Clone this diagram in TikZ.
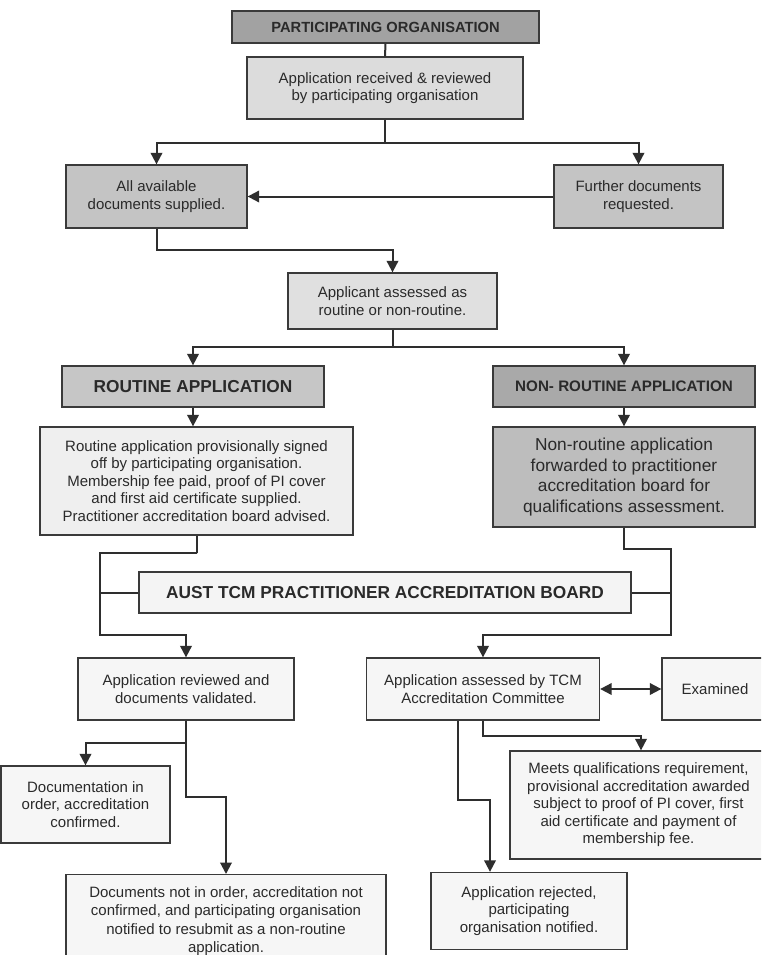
\documentclass[tikz,border=0pt]{standalone}
\usepackage{fontspec}
\setmainfont{Liberation Sans}
\usetikzlibrary{arrows.meta}
\definecolor{bordc}{HTML}{3A3A3A}
\definecolor{linec}{HTML}{2E2E2E}
\definecolor{txtc}{HTML}{2A2A2A}
\definecolor{fpo}{HTML}{A2A2A2}
\definecolor{frecv}{HTML}{DCDCDC}
\definecolor{favail}{HTML}{C4C4C4}
\definecolor{fassess}{HTML}{E0E0E0}
\definecolor{frout}{HTML}{C6C6C6}
\definecolor{fnonrout}{HTML}{A9A9A9}
\definecolor{froutbox}{HTML}{EFEFEF}
\definecolor{fnonroutbox}{HTML}{BDBDBD}
\definecolor{fboard}{HTML}{F4F4F4}
\definecolor{flow}{HTML}{F6F6F6}
\begin{document}
\begin{tikzpicture}[x=1pt,y=-1pt,
  box/.style={draw=bordc, line width=1.3pt, rectangle, align=center, text=txtc,
    inner sep=0pt, font=\fontsize{15}{17.5}\selectfont},
  bighead/.style={font=\fontsize{17.3}{20}\selectfont\bfseries},
  conn/.style={draw=linec, line width=2pt},
  arr/.style={conn, -{Triangle[length=11.5pt,width=11.5pt]}},
  dblarr/.style={conn, {Triangle[length=11.5pt,width=11.5pt]}-{Triangle[length=11.5pt,width=11.5pt]}}
]
\useasboundingbox (0,0) rectangle (761,955);
\clip (0,0) rectangle (761,955);
\fill[white] (0,0) rectangle (761,955);

% nodes
\node[box, fill=fpo, minimum width=307pt, minimum height=32pt,
  font=\fontsize{14.7}{17}\selectfont\bfseries] (po) at (385.5,27) {PARTICIPATING ORGANISATION};
\node[box, fill=frecv, minimum width=276pt, minimum height=62pt] (recv) at (385,88)
  {Application received \& reviewed\\by participating organisation};
\node[box, fill=favail, minimum width=181pt, minimum height=63pt] (avail) at (156.5,196.5)
  {All available\\documents supplied.};
\node[box, fill=favail, minimum width=169pt, minimum height=63pt] (further) at (638.5,196.5)
  {Further documents\\requested.};
\node[box, fill=fassess, minimum width=209pt, minimum height=56pt] (assess) at (392.5,301)
  {Applicant assessed as\\routine or non-routine.};
\node[box, fill=frout, minimum width=262pt, minimum height=41pt, bighead] (rout) at (193,386.5)
  {ROUTINE APPLICATION};
\node[box, fill=fnonrout, minimum width=262pt, minimum height=41pt,
  font=\fontsize{15.2}{18}\selectfont\bfseries] (nonrout) at (624,386.5)
  {NON- ROUTINE APPLICATION};
\node[box, fill=froutbox, minimum width=313pt, minimum height=108pt] (routbox) at (196.5,481)
  {Routine application provisionally signed\\off by participating organisation.\\Membership fee paid, proof of PI cover\\and first aid certificate supplied.\\Practitioner accreditation board advised.};
\node[box, fill=fnonroutbox, minimum width=262pt, minimum height=100pt,
  font=\fontsize{17.3}{20.5}\selectfont] (nonroutbox) at (624,477)
  {Non-routine application\\forwarded to practitioner\\accreditation board for\\qualifications assessment.};
\node[box, fill=fboard, minimum width=492pt, minimum height=41pt, bighead] (board) at (385,592.5)
  {AUST TCM PRACTITIONER ACCREDITATION BOARD};
\node[box, fill=flow, minimum width=216pt, minimum height=62pt] (reviewed) at (186,689)
  {Application reviewed and\\documents validated.};
\node[box, fill=flow, minimum width=233pt, minimum height=62pt] (assessed) at (483,689)
  {Application assessed by TCM\\Accreditation Committee};
\node[box, fill=flow, minimum width=106pt, minimum height=62pt] (examined) at (715,689)
  {Examined};
\node[box, fill=flow, minimum width=169pt, minimum height=77pt] (docok) at (85.5,804.5)
  {Documentation in\\order, accreditation\\confirmed.};
\node[box, fill=flow, minimum width=320pt, anchor=north, inner ysep=12pt,
  font=\fontsize{15}{18.4}\selectfont] (docnot) at (226,874)
  {Documents not in order, accreditation not\\confirmed, and participating organisation\\notified to resubmit as a non-routine\\application.};
\node[box, fill=flow, minimum width=257pt, minimum height=108pt] (meets) at (638.5,805)
  {Meets qualifications requirement,\\provisional accreditation awarded\\subject to proof of PI cover, first\\aid certificate and payment of\\membership fee.};
\node[box, fill=flow, minimum width=196pt, minimum height=77pt] (rejected) at (529,911)
  {Application rejected,\\participating\\organisation notified.};

% junction coordinates
\coordinate (j1) at (385,143);
\coordinate (j2) at (156.5,250);
\coordinate (j3) at (392.5,347);
\coordinate (l1) at (197,553);
\coordinate (l2) at (100,635);
\coordinate (r1) at (624,549);
\coordinate (r2) at (671,635);
\coordinate (j4) at (186,743);
\coordinate (j5) at (186,797);
\coordinate (j6) at (483,736);
\coordinate (j7) at (458,800);

% connectors
\draw[conn] (po.south) -- (recv.north);
\draw[conn] (recv.south) -- (j1);
\draw[arr] (j1) -| (avail.north);
\draw[arr] (j1) -| (further.north);
\draw[arr] (further.west) -- (avail.east);
\draw[arr] (avail.south) -- (j2) -| (assess.north);
\draw[conn] (assess.south) -- (j3);
\draw[arr] (j3) -| (rout.north);
\draw[arr] (j3) -| (nonrout.north);
\draw[arr] (rout.south) -- (rout.south |- routbox.north);
\draw[arr] (nonrout.south) -- (nonroutbox.north);
\draw[arr] (routbox.south) |- (l1) -| (l2) -| (reviewed.north);
\draw[arr] (nonroutbox.south) |- (r1) -| (r2) -| (assessed.north);
\draw[conn] (board.west) -- (board.west -| l2);
\draw[conn] (board.east) -- (board.east -| r2);
\draw[dblarr] (assessed.east) -- (examined.west);
\draw[arr] (reviewed.south) -- (j4) -| (docok.north);
\draw[arr] (j4) -- (j5) -| (docnot.north);
\draw[arr] (assessed.south) -- (j6) -| ([xshift=2.5pt]meets.north);
\draw[arr] ([xshift=-25pt]assessed.south) -- (j7) -| ([xshift=-39pt]rejected.north);
\end{tikzpicture}
\end{document}
